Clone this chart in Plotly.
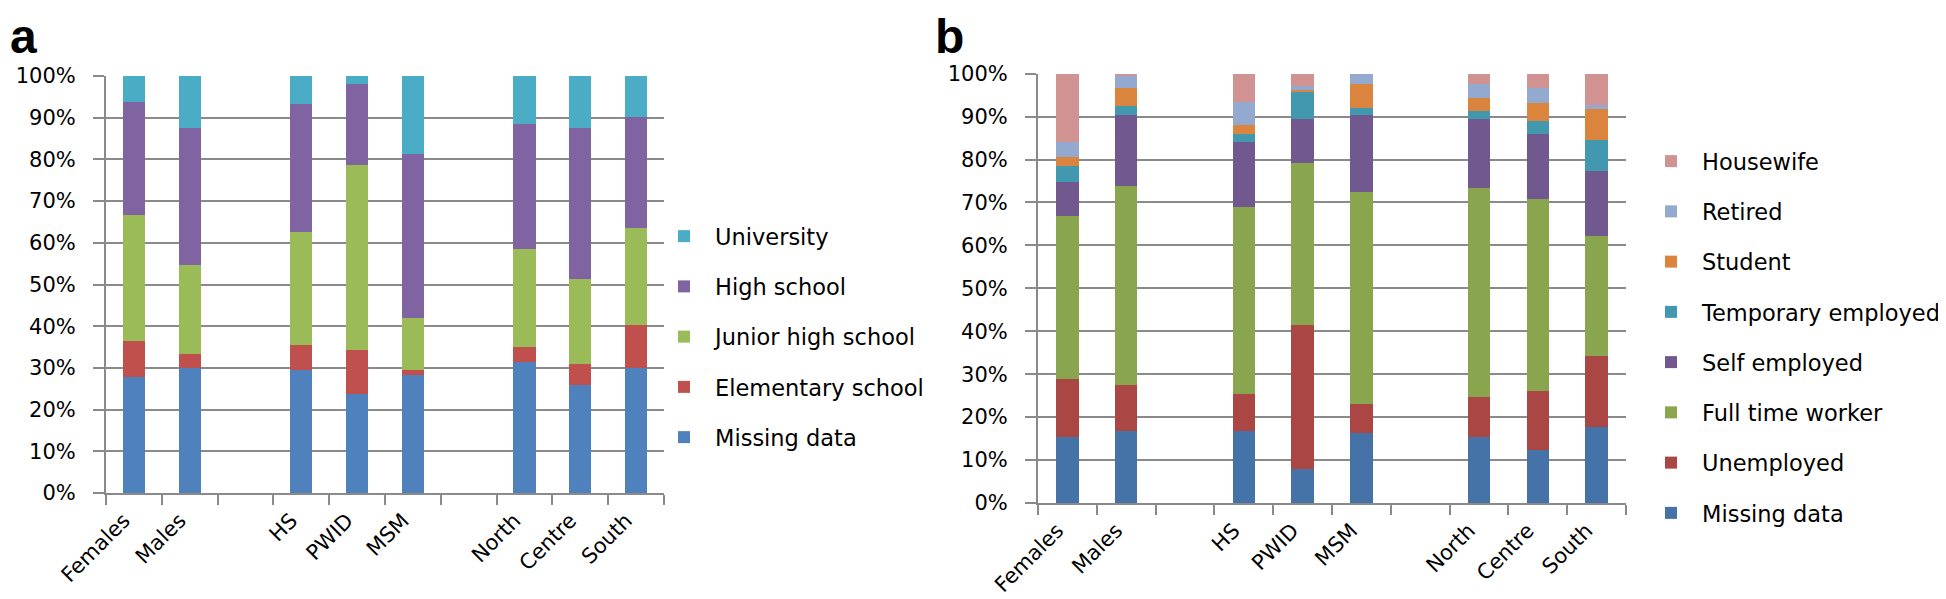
import plotly.graph_objects as go

# ---------------- data ----------------
categories = ["Females", "Males", " ", "HS", "PWID", "MSM", "  ", "North", "Centre", "South"]

# Panel a: education (percent of each group)
edu_missing    = [27.8, 30.0, None, 29.4, 23.8, 28.4, None, 31.4, 25.8, 30.0]
edu_elementary = [8.6, 3.4, None, 6.0, 10.6, 1.0, None, 3.6, 5.2, 10.4]
edu_junior     = [30.2, 21.2, None, 27.2, 44.2, 12.6, None, 23.6, 20.4, 23.2]
edu_high       = [27.2, 33.0, None, 30.6, 19.6, 39.2, None, 30.0, 36.2, 26.6]
edu_university = [6.2, 12.4, None, 6.8, 1.8, 18.8, None, 11.4, 12.4, 9.8]

# Panel b: occupation (percent of each group)
occ_missing    = [15.3, 16.7, None, 16.7, 7.9, 16.3, None, 15.3, 12.4, 17.7]
occ_unemployed = [13.6, 10.7, None, 8.8, 33.6, 6.8, None, 9.3, 13.6, 16.6]
occ_fulltime   = [38.0, 46.4, None, 43.4, 37.6, 49.3, None, 48.7, 44.9, 27.8]
occ_self       = [7.9, 16.6, None, 15.1, 10.3, 17.9, None, 16.1, 15.1, 15.2]
occ_temporary  = [3.8, 2.0, None, 1.9, 6.3, 1.6, None, 2.0, 2.9, 7.2]
occ_student    = [2.0, 4.3, None, 2.1, 0.6, 5.8, None, 2.9, 4.3, 7.3]
occ_retired    = [3.5, 2.8, None, 5.3, 0.9, 2.3, None, 3.4, 3.5, 1.0]
occ_housewife  = [15.9, 0.5, None, 6.7, 2.8, 0.0, None, 2.3, 3.3, 7.2]

edu_series = [
    ("Missing data", edu_missing, "#4F81BD"),
    ("Elementary school", edu_elementary, "#C0504D"),
    ("Junior high school", edu_junior, "#9BBB59"),
    ("High school", edu_high, "#8064A2"),
    ("University", edu_university, "#4BACC6"),
]
occ_series = [
    ("Missing data", occ_missing, "#4572A7"),
    ("Unemployed", occ_unemployed, "#AA4643"),
    ("Full time worker", occ_fulltime, "#89A54E"),
    ("Self employed", occ_self, "#71588F"),
    ("Temporary employed", occ_temporary, "#4198AF"),
    ("Student", occ_student, "#DB843D"),
    ("Retired", occ_retired, "#93A9CF"),
    ("Housewife", occ_housewife, "#D19392"),
]

y_tick_values = list(range(0, 101, 10))
y_tick_labels = [f"{v}%" for v in y_tick_values]

# ---------------- figure ----------------
W, H = 1946, 599
FONT = "DejaVu Sans"
GRAY = "#8a8a8a"

fig = go.Figure()

for i, (name, vals, col) in enumerate(edu_series):
    fig.add_trace(go.Bar(
        x=categories, y=vals, name=name, marker_color=col, marker_line_width=0,
        width=0.4, xaxis="x", yaxis="y", legend="legend", legendgroup="a_" + name,
        legendrank=100 - i,
    ))
for i, (name, vals, col) in enumerate(occ_series):
    fig.add_trace(go.Bar(
        x=categories, y=vals, name=name, marker_color=col, marker_line_width=0,
        width=0.38, xaxis="x2", yaxis="y2", legend="legend2", legendgroup="b_" + name,
        legendrank=100 - i,
    ))


def px_x(p):
    return p / W


def px_y(p):
    return (H - p) / H


def xaxis_cfg(d0, d1, anchor):
    return dict(
        domain=[px_x(d0), px_x(d1)], anchor=anchor, type="category",
        categoryorder="array", categoryarray=categories, range=[-0.5, 9.5],
        tickson="boundaries", ticks="outside", ticklen=10, tickwidth=2, tickcolor=GRAY,
        showline=True, linecolor=GRAY, linewidth=2, showgrid=False,
        tickangle=-45, tickfont=dict(family=FONT, size=21, color="#000"),
        ticklabelstandoff=5, ticklabelshift=-10, fixedrange=True, automargin=False,
    )


def yaxis_cfg(b, t, anchor):
    return dict(
        domain=[px_y(b), px_y(t)], anchor=anchor, range=[0, 100],
        tickmode="array", tickvals=y_tick_values, ticktext=y_tick_labels,
        showgrid=True, gridcolor=GRAY, gridwidth=2,
        showline=True, linecolor=GRAY, linewidth=2, zeroline=False,
        ticks="outside", ticklen=11, tickwidth=2, tickcolor=GRAY,
        tickfont=dict(family=FONT, size=21, color="#000"),
        ticklabelstandoff=13, fixedrange=True, automargin=False,
    )


legend_common = dict(
    yanchor="middle", xanchor="left", traceorder="grouped",
    tracegroupgap=18, itemwidth=52, bgcolor="rgba(0,0,0,0)",
    font=dict(family=FONT, size=22.5, color="#000"), itemclick=False,
)

fig.update_layout(
    width=W, height=H,
    margin=dict(l=0, r=0, t=0, b=0, autoexpand=False),
    paper_bgcolor="white", plot_bgcolor="white",
    barmode="stack",
    font=dict(family=FONT, color="#000"),
    xaxis=xaxis_cfg(98, 656, "y"),
    yaxis=yaxis_cfg(485, 68, "x"),
    xaxis2=xaxis_cfg(1030, 1618, "y2"),
    yaxis2=yaxis_cfg(495, 65.7, "x2"),
    legend=dict(x=px_x(645), y=px_y(329), **legend_common),
    legend2=dict(x=px_x(1632), y=px_y(329), **legend_common),
    annotations=[
        dict(text="<b>a</b>", x=0, y=1, xref="paper", yref="paper",
             xanchor="left", yanchor="top", showarrow=False,
             font=dict(family="Liberation Sans", size=48, color="#000")),
        dict(text="<b>b</b>", x=px_x(925), y=1, xref="paper", yref="paper",
             xanchor="left", yanchor="top", showarrow=False,
             font=dict(family="Liberation Sans", size=48, color="#000")),
    ],
    showlegend=True,
)

fig.write_html("out.html")
